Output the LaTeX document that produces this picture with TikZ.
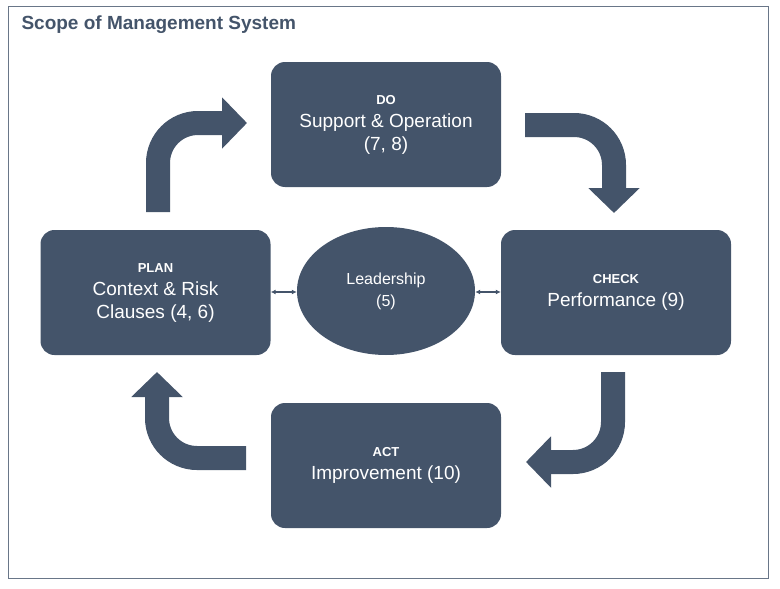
\documentclass[tikz,border=0pt]{standalone}
\usepackage{fontspec}
\setmainfont{Liberation Sans}
\usetikzlibrary{arrows.meta,shapes.geometric}
\definecolor{dk}{HTML}{44546A}
\newcommand\myhd[1]{{\fontsize{13}{15}\selectfont\bfseries #1}}
\begin{document}
\begin{tikzpicture}[x=1pt,y=-1pt,
 box/.style={fill=dk,rounded corners=14pt,minimum width=230pt,minimum height=125pt,text=white,align=center,font=\fontsize{19}{23}\selectfont,inner sep=0pt},
 bentarrow/.style={draw=dk,line width=24pt,rounded corners=40pt,-{Triangle[width=50pt,length=25pt]}},
 dbl/.style={draw=dk,line width=1.2pt,{Latex[length=5pt,width=5pt]}-{Latex[length=5pt,width=5pt]}}]
\useasboundingbox (0,0) rectangle (780,589);
\draw[draw=dk!80,line width=1pt] (8,6) rectangle (768,578);
\node[anchor=west,text=dk,font=\fontsize{19}{23}\selectfont\bfseries] (title) at (18,25) {Scope of Management System};
\node[box] (do) at (386,124.5) {\myhd{DO}\\Support \& Operation\\(7, 8)};
\node[box] (plan) at (155.5,292.5) {\myhd{PLAN}\\Context \& Risk\\Clauses (4, 6)};
\node[box] (check) at (616,292.5) {\myhd{CHECK}\\Performance (9)};
\node[box] (act) at (386,465.5) {\myhd{ACT}\\Improvement (10)};
\node[ellipse,fill=dk,minimum width=178pt,minimum height=128pt,text=white,align=center,font=\fontsize{16}{22}\selectfont,inner sep=0pt] (lead) at (386,291) {Leadership\\(5)};
\draw[dbl] (plan.east|-0,292) -- (lead.west|-0,292);
\draw[dbl] (lead.east|-0,292) -- (check.west|-0,292);
\coordinate (a1) at (158,212); \coordinate (a1e) at (247,123);
\draw[bentarrow] (a1) -- (158,123) -- (a1e);
\coordinate (a2) at (525,125); \coordinate (a2e) at (614,213);
\draw[bentarrow] (a2) -- (614,125) -- (a2e);
\coordinate (a3) at (613,372); \coordinate (a3e) at (526,462);
\draw[bentarrow] (a3) -- (613,462) -- (a3e);
\coordinate (a4) at (246,458); \coordinate (a4e) at (157,372);
\draw[bentarrow] (a4) -- (157,458) -- (a4e);
\end{tikzpicture}
\end{document}
